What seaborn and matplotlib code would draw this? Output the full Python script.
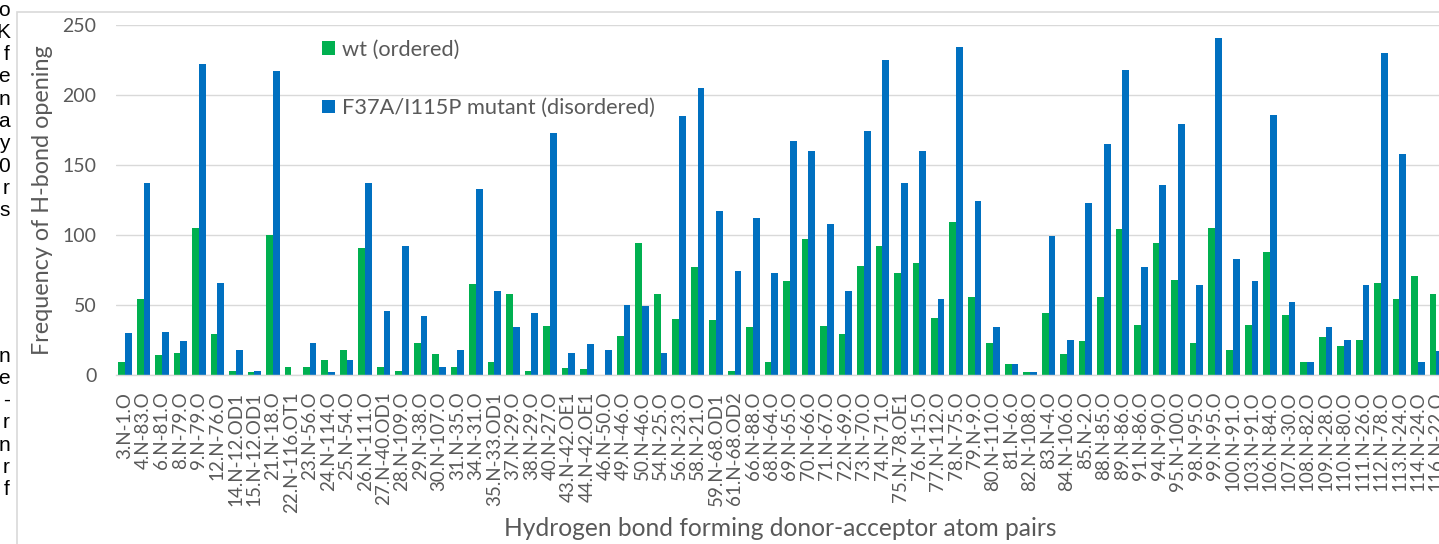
import matplotlib
matplotlib.use("Agg")
import matplotlib.pyplot as plt
import seaborn as sns
import pandas as pd
from matplotlib.patches import Rectangle

labels = ["3.N-1.O","4.N-83.O","6.N-81.O","8.N-79.O","9.N-79.O","12.N-76.O","14.N-12.OD1","15.N-12.OD1",
          "21.N-18.O","22.N-116.OT1","23.N-56.O","24.N-114.O","25.N-54.O","26.N-111.O","27.N-40.OD1",
          "28.N-109.O","29.N-38.O","30.N-107.O","31.N-35.O","34.N-31.O","35.N-33.OD1","37.N-29.O",
          "38.N-29.O","40.N-27.O","43.N-42.OE1","44.N-42.OE1","46.N-50.O","49.N-46.O","50.N-46.O",
          "54.N-25.O","56.N-23.O","58.N-21.O","59.N-68.OD1","61.N-68.OD2","66.N-88.O","68.N-64.O",
          "69.N-65.O","70.N-66.O","71.N-67.O","72.N-69.O","73.N-70.O","74.N-71.O","75.N-78.OE1",
          "76.N-15.O","77.N-112.O","78.N-75.O","79.N-9.O","80.N-110.O","81.N-6.O","82.N-108.O",
          "83.N-4.O","84.N-106.O","85.N-2.O","88.N-85.O","89.N-86.O","91.N-86.O","94.N-90.O",
          "95.N-100.O","98.N-95.O","99.N-95.O","100.N-91.O","103.N-91.O","106.N-84.O","107.N-30.O",
          "108.N-82.O","109.N-28.O","110.N-80.O","111.N-26.O","112.N-78.O","113.N-24.O","114.N-24.O",
          "116.N-22.O"]

wt = [9,54,14,16,105,29,3,2,100,6,6,11,18,91,6,3,23,15,6,65,9,58,3,35,5,4,0,28,94,58,40,77,39,3,
      34,9,67,97,35,29,78,92,73,80,41,109,56,23,8,2,44,15,24,56,104,36,94,68,23,105,18,36,88,43,9,
      27,21,25,66,54,71,58]

mutant = [30,137,31,24,222,66,18,3,217,0,23,2,11,137,46,92,42,6,18,133,60,34,44,173,16,22,18,50,
          49,16,185,205,117,74,112,73,167,160,108,60,174,225,137,160,54,234,124,34,8,2,99,25,123,
          165,218,77,136,179,64,241,83,67,186,52,9,34,25,64,230,158,9,17]

series_names = ["wt (ordered)", "F37A/I115P mutant (disordered)"]
series_colors = ["#00B050", "#0070C0"]

y_ticks = [0, 50, 100, 150, 200, 250]
x_title = "Hydrogen bond forming donor-acceptor atom pairs"
y_title = "Frequency of H-bond opening"

margin_upper = ["o", "K", "f", "e", "n", "a", "y", "0", "r", "s"]
margin_lower = ["n", "e", "-", "r", "n", "r", "f"]

df = pd.DataFrame({
    "pair": labels * 2,
    "value": wt + mutant,
    "series": [series_names[0]] * len(labels) + [series_names[1]] * len(labels),
})

sns.set_theme(style="white")
plt.rcParams["font.family"] = ["Lato", "DejaVu Sans"]

W, H = 1439, 544
fig = plt.figure(figsize=(W / 100, H / 100), dpi=100)
n = len(labels)
step = 18.47
left_px = 115.8
ax = fig.add_axes([left_px / W, (H - 375) / H, n * step / W, 350 / H])

sns.barplot(data=df, x="pair", y="value", hue="series", order=labels, hue_order=series_names,
            palette=series_colors, width=0.73, gap=0, saturation=1, errorbar=None, ax=ax,
            linewidth=0)

ax.set_xlim(-0.5, n - 0.5)
ax.set_ylim(0, 250)
ax.set_yticks(y_ticks)
ax.yaxis.grid(True, color="#d9d9d9", linewidth=1)
ax.set_axisbelow(True)
for s in ["left", "right", "top"]:
    ax.spines[s].set_visible(False)
ax.spines["bottom"].set_color("#d9d9d9")
ax.spines["bottom"].set_linewidth(1)
ax.tick_params(axis="both", length=0)
ax.tick_params(axis="y", labelsize=14, labelcolor="#595959", pad=14)
ax.tick_params(axis="x", labelsize=13.5, labelcolor="#595959", pad=12)
plt.setp(ax.get_xticklabels(), rotation=90, ha="center", va="top")

ax.set_xlabel(x_title, fontsize=17.7, color="#595959")
ax.set_ylabel(y_title, fontsize=16.8, color="#595959")
ax.xaxis.set_label_coords(0.4995, -0.405)
ax.yaxis.set_label_coords(-0.047, 0.5)

handles, lbls = ax.get_legend_handles_labels()
ax.legend(handles, lbls, loc="upper left", bbox_to_anchor=(322 / W, 1 - 40 / H),
          bbox_transform=fig.transFigure, frameon=False, fontsize=15.7,
          handlelength=0.6, handleheight=0.6, handletextpad=0.3, labelspacing=1.75,
          labelcolor="#595959", borderpad=0, borderaxespad=0)

# outer chart frame (partially cropped)
fig.patches.append(Rectangle((17 / W, -0.1), 1.2, 1.1 - 12 / H, transform=fig.transFigure,
                             fill=False, edgecolor="#d9d9d9", linewidth=1.2))

# cropped text from the surrounding page
line_h = 22.3
for i, ch in enumerate(margin_upper):
    fig.text(10 / W, 1 - (10 + i * line_h) / H, ch, ha="right", va="center", fontsize=15,
             color="black", family=["Liberation Sans", "DejaVu Sans"])
for i, ch in enumerate(margin_lower):
    fig.text(10 / W, 1 - (356 + i * line_h) / H, ch, ha="right", va="center", fontsize=15,
             color="black", family=["Liberation Sans", "DejaVu Sans"])

fig.savefig("out.png", dpi=100)
